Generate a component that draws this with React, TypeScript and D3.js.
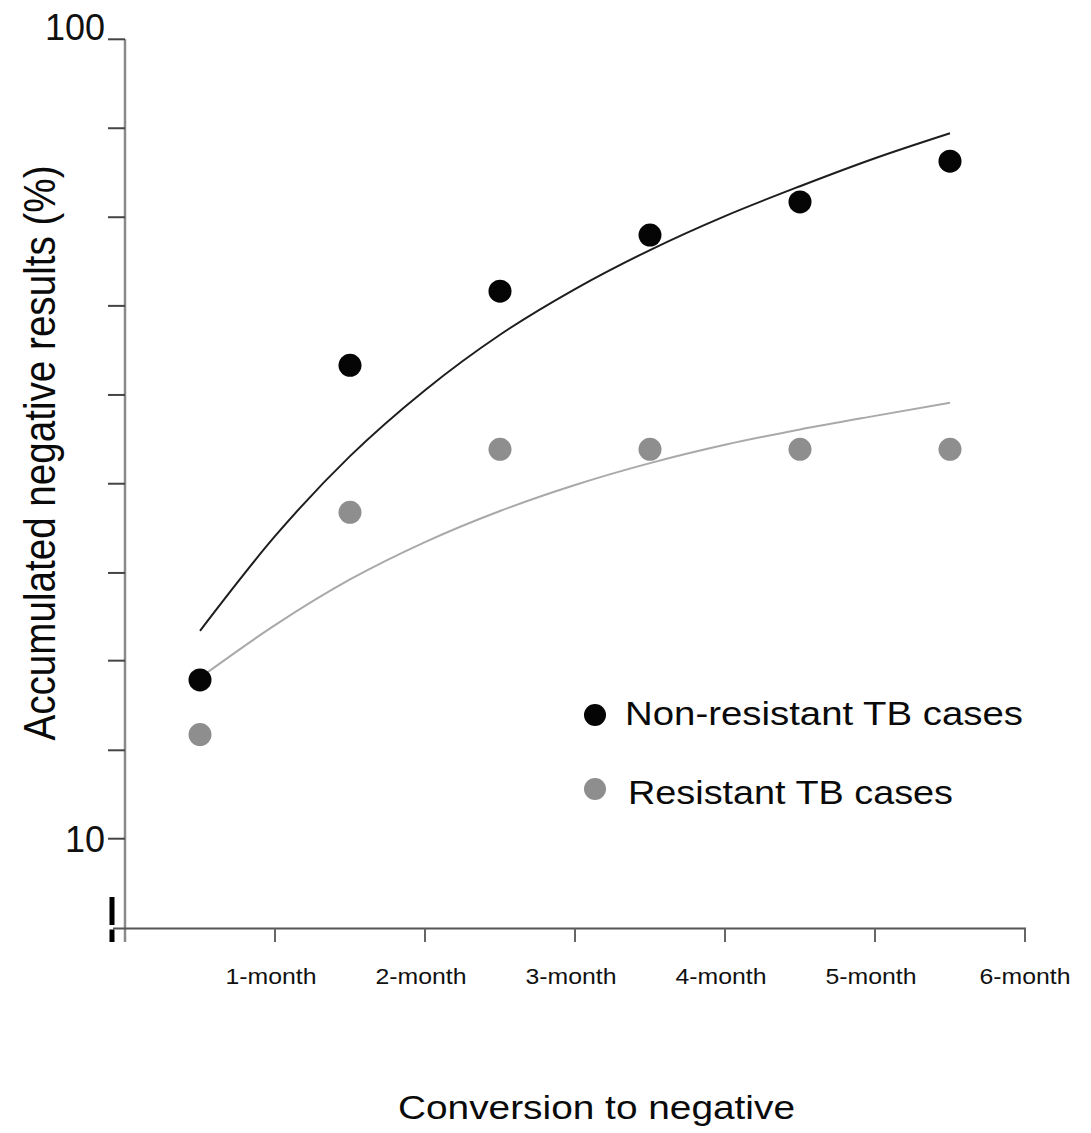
import { useRef, useEffect } from 'react';
import * as d3 from 'd3';

// months on the x axis, points sit at mid-month
const monthLabels = ['1-month', '2-month', '3-month', '4-month', '5-month', '6-month'];
const monthTicks = [1, 2, 3, 4, 5, 6];
const pointMonths = [0.5, 1.5, 2.5, 3.5, 4.5, 5.5];

// accumulated negative results (%)
const nonResistant = [15.8, 39.1, 48.4, 56.9, 62.6, 70.4];
const resistant = [13.5, 25.6, 30.7, 30.7, 30.7, 30.7];

// fitted trend curves
const fitMonths = [0.5, 1, 1.5, 2, 2.5, 3, 3.5, 4, 4.5, 5, 5.5];
const nonResistantFit = [18.2, 23.9, 30.1, 36.4, 42.7, 48.7, 54.5, 60.1, 65.5, 71.0, 76.3];
const resistantFit = [15.9, 18.5, 21.1, 23.5, 25.7, 27.7, 29.5, 31.1, 32.5, 33.8, 35.1];

// y axis: labelled decades and unlabelled marks between them
const yLabelValues = [10, 100];
const yMinorTicks = [12.9, 16.7, 21.5, 27.8, 35.9, 46.4, 59.9, 77.4];

const legendItems = ['Non-resistant TB cases', 'Resistant TB cases'];
const legendLengths = [398, 325];

const BLACK = '#050505';
const GRAY = '#8e8e8e';
const FONT = '"Liberation Sans", Arial, sans-serif';

export default function App() {
  const svgRef = useRef<SVGSVGElement | null>(null);
  const width = 1091;
  const height = 1133;

  useEffect(() => {
    if (!svgRef.current) return;
    const svg = d3.select(svgRef.current);
    svg.selectAll('*').remove();

    const x = d3.scaleLinear().domain([0, 6]).range([125, 1025]);
    const y = d3.scaleLog().domain([10, 100]).range([838.7, 39.3]);
    const axisY = 928.5;

    // y axis line (runs below the x axis a little)
    svg.append('line')
      .attr('x1', 125).attr('x2', 125)
      .attr('y1', y(100)).attr('y2', 942)
      .attr('stroke', '#8a8a8a').attr('stroke-width', 2.5);

    // y ticks
    [...yLabelValues, ...yMinorTicks].forEach((v) => {
      svg.append('line')
        .attr('x1', 108).attr('x2', 125)
        .attr('y1', y(v)).attr('y2', y(v))
        .attr('stroke', '#444').attr('stroke-width', 2);
    });
    yLabelValues.forEach((v) => {
      svg.append('text')
        .attr('x', 105)
        .attr('y', y(v) + (v === 100 ? 1 : 13))
        .attr('text-anchor', 'end')
        .attr('font-family', FONT)
        .attr('font-size', 36)
        .attr('fill', '#111')
        .text(v);
    });

    // axis break mark
    svg.append('rect').attr('x', 109.5).attr('y', 897).attr('width', 5).attr('height', 28).attr('fill', '#000');
    svg.append('rect').attr('x', 109.5).attr('y', 929.5).attr('width', 5).attr('height', 12.5).attr('fill', '#000');

    // x axis
    svg.append('line')
      .attr('x1', 113).attr('x2', x(6) + 1)
      .attr('y1', axisY).attr('y2', axisY)
      .attr('stroke', '#555').attr('stroke-width', 2.2);
    monthTicks.forEach((m, i) => {
      svg.append('line')
        .attr('x1', x(m)).attr('x2', x(m))
        .attr('y1', axisY).attr('y2', 942)
        .attr('stroke', '#666').attr('stroke-width', 2);
      svg.append('text')
        .attr('x', x(m) - (i < 5 ? 4 : 0))
        .attr('y', 984)
        .attr('text-anchor', 'middle')
        .attr('font-family', FONT)
        .attr('font-size', 22)
        .attr('textLength', 91)
        .attr('lengthAdjust', 'spacingAndGlyphs')
        .attr('fill', '#111')
        .text(monthLabels[i]);
    });

    // fitted curves
    const line = d3.line<[number, number]>()
      .x((d) => x(d[0]))
      .y((d) => y(d[1]))
      .curve(d3.curveMonotoneX);

    svg.append('path')
      .datum(fitMonths.map((m, i) => [m, resistantFit[i]] as [number, number]))
      .attr('fill', 'none').attr('stroke', '#a9a9a9').attr('stroke-width', 2)
      .attr('d', line);
    svg.append('path')
      .datum(fitMonths.map((m, i) => [m, nonResistantFit[i]] as [number, number]))
      .attr('fill', 'none').attr('stroke', '#1e1e1e').attr('stroke-width', 2)
      .attr('d', line);

    // points
    pointMonths.forEach((m, i) => {
      svg.append('circle')
        .attr('cx', x(m)).attr('cy', y(resistant[i])).attr('r', 11.5)
        .attr('fill', GRAY);
    });
    pointMonths.forEach((m, i) => {
      svg.append('circle')
        .attr('cx', x(m)).attr('cy', y(nonResistant[i])).attr('r', 11.5)
        .attr('fill', BLACK);
    });

    // legend
    const legendColors = [BLACK, GRAY];
    legendItems.forEach((label, i) => {
      const cy = 715 + i * 74;
      svg.append('circle').attr('cx', 595).attr('cy', cy).attr('r', 11).attr('fill', legendColors[i]);
      svg.append('text')
        .attr('x', 625 + i * 3)
        .attr('y', cy + 10 + i * 5)
        .attr('font-family', FONT)
        .attr('font-size', 34)
        .attr('textLength', legendLengths[i])
        .attr('lengthAdjust', 'spacingAndGlyphs')
        .attr('fill', '#0a0a0a')
        .text(label);
    });

    // axis titles
    svg.append('text')
      .attr('x', 596.5).attr('y', 1119)
      .attr('text-anchor', 'middle')
      .attr('font-family', FONT)
      .attr('font-size', 34)
      .attr('textLength', 397)
      .attr('lengthAdjust', 'spacingAndGlyphs')
      .attr('fill', '#0a0a0a')
      .text('Conversion to negative');

    svg.append('text')
      .attr('transform', 'translate(55,453) rotate(-90)')
      .attr('text-anchor', 'middle')
      .attr('font-family', FONT)
      .attr('font-size', 45)
      .attr('textLength', 575)
      .attr('lengthAdjust', 'spacingAndGlyphs')
      .attr('fill', '#0a0a0a')
      .text('Accumulated negative results (%)');
  }, []);

  return (
    <div style={{ position: 'absolute', left: 0, top: 0, background: '#fff' }}>
      <svg ref={svgRef} width={width} height={height} style={{ display: 'block' }} />
    </div>
  );
}
